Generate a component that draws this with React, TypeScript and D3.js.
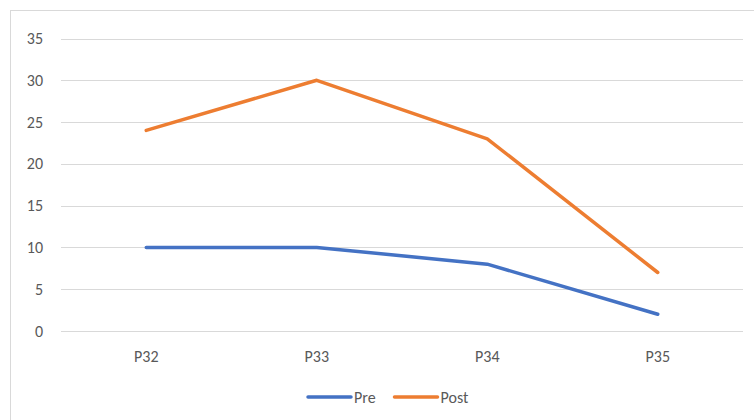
import React from "react";
import * as d3 from "d3";

const categories = ["P32", "P33", "P34", "P35"];
const preValues = [10, 10, 8, 2];
const postValues = [24, 30, 23, 7];
const yTicks = [0, 5, 10, 15, 20, 25, 30, 35];
const seriesNames = ["Pre", "Post"];
const seriesColors = ["#4472C4", "#ED7D31"];

const W = 754;
const H = 420;
const FONT = "Calibri, Carlito, Lato, 'Open Sans', sans-serif";
const FS = 16;

export default function App() {
  const x = d3.scalePoint<string>().domain(categories).range([61, 743]).padding(0.5);
  const y = d3.scaleLinear().domain([0, 35]).range([331, 38.5]);
  const line = d3
    .line<number>()
    .x((_, i) => x(categories[i]) as number)
    .y((d) => y(d));
  const series = [preValues, postValues];

  return (
    <svg
      width={W}
      height={H}
      style={{ position: "absolute", left: 0, top: 0, background: "#fff" }}
      fontFamily={FONT}
    >
      <rect x={0} y={0} width={W} height={H} fill="#fff" />
      <rect x={10.5} y={10.5} width={800} height={500} fill="none" stroke="#D9D9D9" strokeWidth={1} />
      {yTicks.map((t) => (
        <g key={t}>
          <line x1={61} x2={743} y1={Math.round(y(t)) + 0.5} y2={Math.round(y(t)) + 0.5} stroke="#D9D9D9" strokeWidth={1} />
          <text x={43} y={y(t)} dy="0.35em" textAnchor="end" fontSize={FS} fill="#595959">
            {t}
          </text>
        </g>
      ))}
      {categories.map((c) => (
        <text key={c} x={x(c)} y={356} dy="0.35em" textAnchor="middle" fontSize={FS} fill="#595959">
          {c}
        </text>
      ))}
      {series.map((s, i) => (
        <path
          key={seriesNames[i]}
          d={line(s) || ""}
          fill="none"
          stroke={seriesColors[i]}
          strokeWidth={3.5}
          strokeLinecap="round"
          strokeLinejoin="round"
        />
      ))}
      {seriesNames.map((n, i) => {
        const lx = i === 0 ? 308 : 394.5;
        return (
          <g key={n}>
            <line x1={lx} x2={lx + 43} y1={397} y2={397} stroke={seriesColors[i]} strokeWidth={3.5} strokeLinecap="round" />
            <text x={lx + 46} y={397} dy="0.35em" fontSize={FS} fill="#595959">
              {n}
            </text>
          </g>
        );
      })}
    </svg>
  );
}
